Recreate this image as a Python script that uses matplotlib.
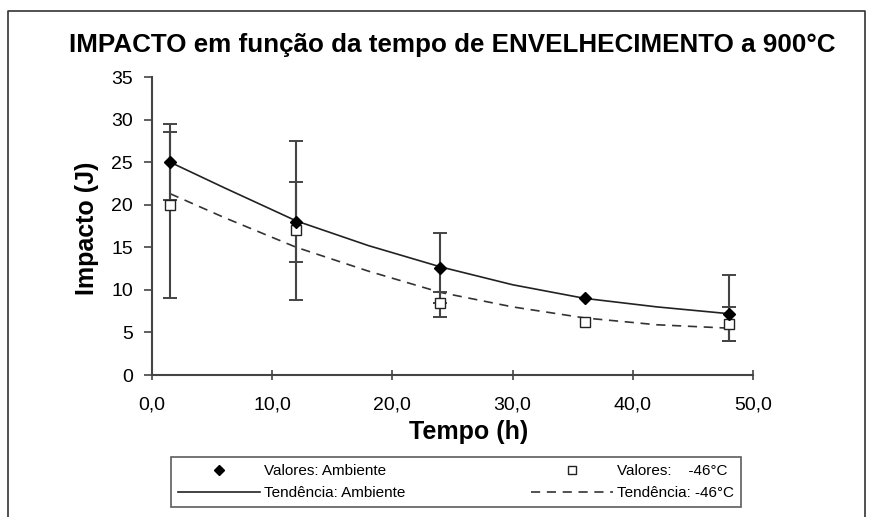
import matplotlib
matplotlib.use("Agg")
import matplotlib.pyplot as plt
from matplotlib.lines import Line2D

plt.rcParams['font.family'] = ['Liberation Sans', 'DejaVu Sans']

# ---- data ----
tempo = [1.5, 12, 24, 36, 48]
amb_vals = [25.0, 18.0, 12.6, 9.0, 7.2]
amb_err_lo = [4.5, 4.7, 4.1, 0.0, 3.2]
amb_err_hi = [4.5, 4.7, 4.1, 0.0, 4.6]
m46_vals = [20.0, 17.0, 8.4, 6.2, 6.0]
m46_err_lo = [11.0, 8.2, 1.6, 0.0, 2.0]
m46_err_hi = [8.5, 10.5, 1.4, 0.0, 2.0]

trend_x = [1.5, 6, 12, 18, 24, 30, 36, 42, 48]
trend_amb = [25.0, 22.0, 18.1, 15.2, 12.7, 10.6, 9.0, 8.0, 7.2]
trend_m46 = [21.3, 18.5, 15.0, 12.2, 9.7, 8.0, 6.7, 5.9, 5.5]

xticks = [0, 10, 20, 30, 40, 50]
xtick_labels = ['0,0', '10,0', '20,0', '30,0', '40,0', '50,0']
yticks = [0, 5, 10, 15, 20, 25, 30, 35]

fig = plt.figure(figsize=(8.7, 5.17), dpi=100)
ax = fig.add_axes([152/870, 1-375/517, (753-152)/870, (375-77)/517])

ecol = '#444444'
dash = (0, (5.5, 4))
# trend lines
ax.plot(trend_x, trend_amb, color='#222222', lw=1.2, zorder=2)
ax.plot(trend_x, trend_m46, color='#333333', lw=1.2, ls=dash, zorder=2)

# error bars (only where non-zero)
def errbars(vals, lo, hi):
    keep = [i for i in range(len(tempo)) if lo[i] > 0 or hi[i] > 0]
    ax.errorbar([tempo[i] for i in keep], [vals[i] for i in keep],
                yerr=[[lo[i] for i in keep], [hi[i] for i in keep]],
                fmt='none', ecolor=ecol, elinewidth=1.5, capsize=5,
                capthick=1.4, zorder=3)

errbars(m46_vals, m46_err_lo, m46_err_hi)
errbars(amb_vals, amb_err_lo, amb_err_hi)

ax.plot(tempo, amb_vals, 'D', color='black', ms=6, zorder=5)
ax.plot(tempo, m46_vals, 's', mfc='white', mec='#222222', mew=1.0, ms=7, zorder=4)

ax.set_xlim(0, 50)
ax.set_ylim(0, 35)
ax.set_xticks(xticks)
ax.set_xticklabels(xtick_labels)
ax.set_yticks(yticks)
for s in ['top', 'right']:
    ax.spines[s].set_visible(False)
for s in ['left', 'bottom']:
    ax.spines[s].set_color('#444444')
    ax.spines[s].set_linewidth(1.5)
ax.tick_params(axis='x', direction='inout', length=7.5, width=1.2, color='#444444',
               labelsize=14, pad=12)
ax.tick_params(axis='y', direction='out', length=6, width=1.2, color='#444444',
               labelsize=14, pad=7.5)

ax.set_xlabel('Tempo (h)', fontsize=18, fontweight='bold')
ax.xaxis.set_label_coords((469-152)/601, (375-420)/298)
ax.set_ylabel('Impacto (J)', fontsize=18, fontweight='bold')
ax.yaxis.set_label_coords((99-152)/601, (375-228)/298)
fig.text(452/870, 1-45/517, 'IMPACTO em função da tempo de ENVELHECIMENTO a 900°C',
         ha='center', va='center', fontsize=18.7, fontweight='bold')

# outer border (left, top, right)
fig.add_artist(Line2D([8/870, 8/870, 865/870, 865/870],
                      [0, 1-11/517, 1-11/517, 0],
                      transform=fig.transFigure, color='#333333', lw=1.2))

handles = [
    Line2D([], [], marker='D', color='black', ls='none', ms=5),
    Line2D([], [], color='#222222', lw=1.2),
    Line2D([], [], marker='s', mfc='white', mec='#222222', ls='none', ms=6),
    Line2D([], [], color='#333333', lw=1.2, ls=dash),
]
labels = ['Valores: Ambiente', 'Tendência: Ambiente',
          'Valores:    -46°C', 'Tendência: -46°C']
leg = fig.legend(handles, labels, ncol=2, loc='upper left',
                 bbox_to_anchor=(171/870, 1-457/517),
                 bbox_transform=fig.transFigure,
                 fontsize=11, frameon=True, fancybox=False,
                 handlelength=5.35, handletextpad=0.3, borderaxespad=0,
                 labelspacing=0.55, borderpad=0.45, columnspacing=8.2)
leg.get_frame().set_edgecolor('#333333')
leg.get_frame().set_linewidth(1.2)

fig.savefig('out.png', dpi=100)
